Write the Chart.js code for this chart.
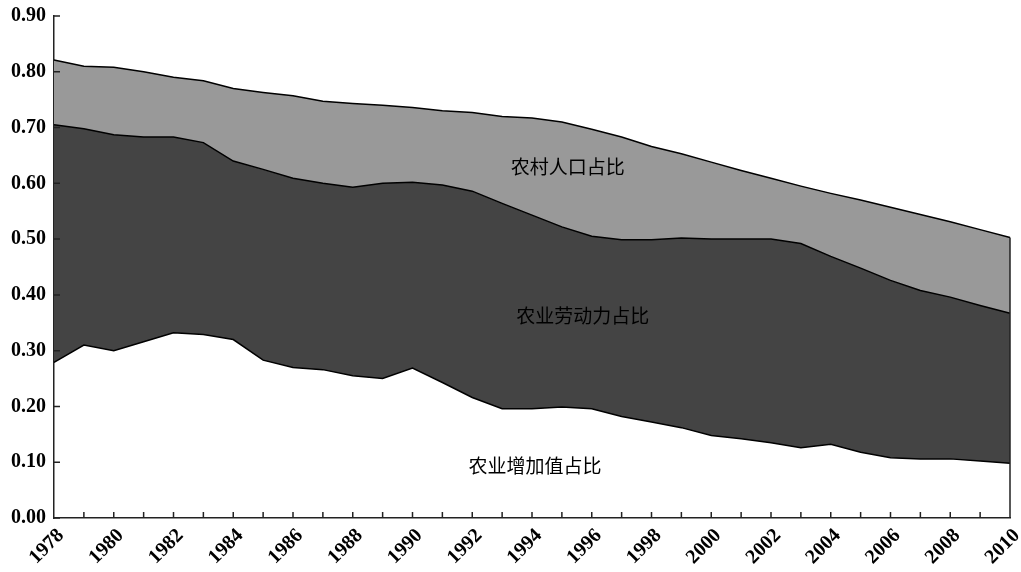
<!DOCTYPE html>
<html>
<head>
<meta charset="utf-8">
<script src="https://cdn.jsdelivr.net/npm/chart.js@4/dist/chart.umd.min.js"></script>
<style>
  html, body { margin: 0; padding: 0; background: #fff; }
  #wrap { width: 1021px; height: 572px; }
</style>
</head>
<body>
<div id="wrap"><canvas id="myChart"></canvas></div>
<script>
// years 1978..2010
const years = [];
for (let y = 1978; y <= 2010; y++) years.push(String(y));

// 农业增加值占比
const addedValue = [0.279, 0.310, 0.300, 0.316, 0.332, 0.329, 0.320, 0.283, 0.270, 0.266,
  0.255, 0.250, 0.269, 0.243, 0.216, 0.196, 0.196, 0.199, 0.196, 0.182,
  0.172, 0.162, 0.148, 0.142, 0.135, 0.126, 0.132, 0.118, 0.108, 0.106,
  0.106, 0.102, 0.098];
// 农业劳动力占比
const labour = [0.705, 0.698, 0.687, 0.683, 0.683, 0.673, 0.640, 0.625, 0.609, 0.600,
  0.593, 0.600, 0.602, 0.597, 0.586, 0.564, 0.543, 0.522, 0.505, 0.499,
  0.499, 0.502, 0.500, 0.500, 0.500, 0.492, 0.469, 0.448, 0.426, 0.408,
  0.396, 0.381, 0.367];
// 农村人口占比
const rural = [0.821, 0.810, 0.808, 0.800, 0.790, 0.784, 0.770, 0.763, 0.757, 0.747,
  0.743, 0.740, 0.736, 0.730, 0.727, 0.720, 0.717, 0.710, 0.697, 0.683,
  0.666, 0.653, 0.638, 0.623, 0.609, 0.595, 0.582, 0.570, 0.557, 0.544,
  0.531, 0.517, 0.503];

const areaNames = ['农业增加值占比', '农业劳动力占比', '农村人口占比'];
// where each name sits: [year index, value]
const namePos = [[16.1, 0.093], [17.7, 0.362], [17.2, 0.629]];

const axisFont = { family: 'Liberation Serif', size: 20, weight: 'bold' };

const innerTicks = {
  id: 'innerTicks',
  afterDraw(chart) {
    const ctx = chart.ctx;
    const xs = chart.scales.x, ys = chart.scales.y;
    const area = chart.chartArea;
    ctx.save();
    ctx.strokeStyle = '#222';
    ctx.lineWidth = 1.5;
    ctx.beginPath();
    for (let i = 1; i < years.length; i++) {
      const px = xs.getPixelForValue(i);
      ctx.moveTo(px, area.bottom);
      ctx.lineTo(px, area.bottom - 6);
    }
    ys.ticks.forEach(t => {
      const py = ys.getPixelForValue(t.value);
      ctx.moveTo(area.left, py);
      ctx.lineTo(area.left + 6, py);
    });
    // right edge of the filled area
    const lastX = xs.getPixelForValue(years.length - 1);
    ctx.moveTo(lastX, ys.getPixelForValue(rural[rural.length - 1]));
    ctx.lineTo(lastX, area.bottom);
    ctx.stroke();

    ctx.fillStyle = '#000';
    ctx.font = '19px "Noto Sans CJK SC"';
    ctx.textAlign = 'center';
    ctx.textBaseline = 'middle';
    areaNames.forEach((n, i) => {
      ctx.fillText(n, xs.getPixelForValue(namePos[i][0]), ys.getPixelForValue(namePos[i][1]));
    });
    ctx.restore();
  }
};

const ctx = document.getElementById('myChart');
const myChart = new Chart(ctx, {
  type: 'line',
  data: {
    labels: years,
    datasets: [{
      label: areaNames[0],
      data: addedValue,
      borderColor: '#000',
      borderWidth: 1.5,
      pointRadius: 0,
      fill: false
    }, {
      label: areaNames[1],
      data: labour,
      borderColor: '#000',
      borderWidth: 1.5,
      pointRadius: 0,
      backgroundColor: '#444444',
      fill: '-1'
    }, {
      label: areaNames[2],
      data: rural,
      borderColor: '#000',
      borderWidth: 1.5,
      pointRadius: 0,
      backgroundColor: '#999999',
      fill: '-1'
    }]
  },
  options: {
    responsive: true,
    maintainAspectRatio: false,
    animation: false,
    layout: { padding: { top: 16, right: 11, left: 0, bottom: 0 } },
    plugins: { legend: { display: false }, tooltip: { enabled: false } },
    scales: {
      x: {
        offset: false,
        grid: { drawOnChartArea: false, drawTicks: false },
        border: { display: true, color: '#222', width: 1.5 },
        ticks: {
          autoSkip: false,
          minRotation: 45,
          maxRotation: 45,
          padding: 6,
          labelOffset: 7,
          color: '#000',
          font: axisFont,
          callback: function (v, i) { return i % 2 === 0 ? years[i] : ''; }
        },
        afterFit: s => { s.height = 54; s.paddingLeft = 0; s.paddingRight = 0; }
      },
      y: {
        min: 0,
        max: 0.9,
        grid: { drawOnChartArea: false, drawTicks: false },
        border: { display: true, color: '#222', width: 1.5 },
        ticks: {
          stepSize: 0.1,
          padding: 8,
          color: '#000',
          font: axisFont,
          callback: v => v.toFixed(2)
        },
        afterFit: s => { s.width = 54; s.paddingTop = 0; s.paddingBottom = 0; }
      }
    }
  },
  plugins: [innerTicks]
});
</script>
</body>
</html>
